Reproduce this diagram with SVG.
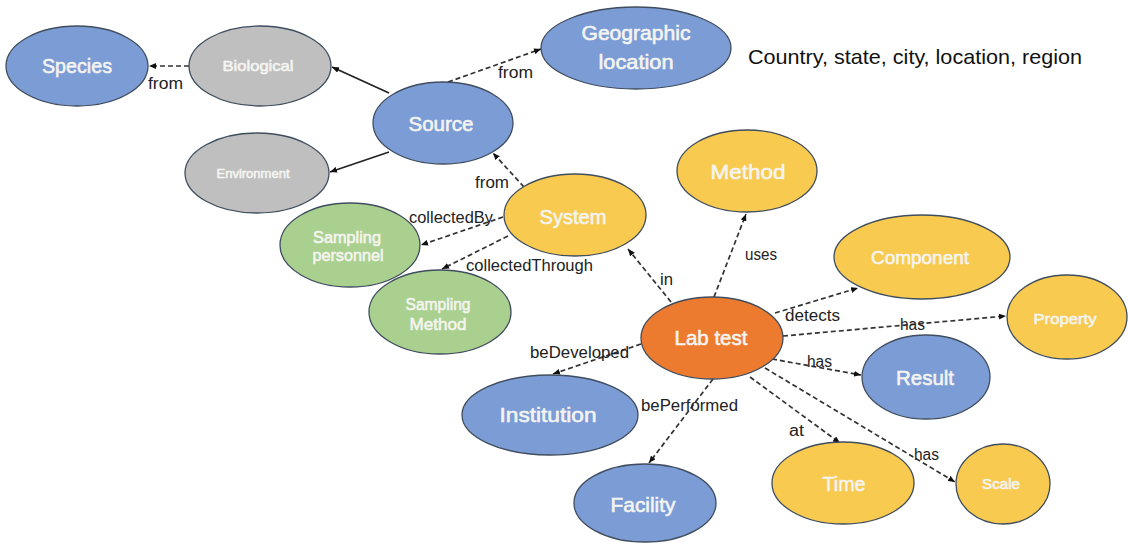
<svg xmlns="http://www.w3.org/2000/svg" width="1128" height="544" viewBox="0 0 1128 544">
  <style>
    .node ellipse { stroke: #3f4d5e; stroke-width: 1.3; }
    .blue { fill: #7c9cd6; }
    .gray { fill: #bfbfbf; }
    .yellow { fill: #f8ca50; }
    .green { fill: #a9d08e; }
    .orange { fill: #ec7b30; }
    .nt { font-family: "Liberation Sans", Arial, sans-serif; fill: #f4f4f0; stroke: #f4f4f0; stroke-width: 0.6; text-anchor: middle; }
    .el { font-family: "Liberation Sans", Arial, sans-serif; fill: #222; font-size: 16px; }
    .dash { stroke: #333; stroke-width: 1.7; stroke-dasharray: 5 3; fill: none; marker-end: url(#arrow); }
    .solid { stroke: #222; stroke-width: 1.7; fill: none; marker-end: url(#arrow); }
  </style>
  <defs>
    <marker id="arrow" markerUnits="userSpaceOnUse" markerWidth="7" markerHeight="6" refX="7" refY="3" orient="auto">
      <path d="M0,0 L7,3 L0,6 z" fill="#111"/>
    </marker>
  </defs>
  <rect width="1128" height="544" fill="#ffffff"/>

  <!-- connectors -->
  <g id="connectors">
    <line class="dash" x1="189" y1="66" x2="149" y2="66"/>
    <line class="solid" x1="389" y1="93" x2="332" y2="67"/>
    <line class="solid" x1="389" y1="152" x2="330" y2="172"/>
    <line class="dash" x1="448" y1="82" x2="541" y2="49"/>
    <line class="dash" x1="524" y1="187" x2="493" y2="153"/>
    <line class="dash" x1="503" y1="217" x2="421" y2="245"/>
    <line class="dash" x1="508" y1="236" x2="442" y2="269"/>
    <line class="dash" x1="671" y1="302" x2="628" y2="249"/>
    <line class="dash" x1="714" y1="297" x2="746" y2="214"/>
    <line class="dash" x1="775" y1="313" x2="858" y2="288"/>
    <line class="dash" x1="783" y1="336" x2="1006" y2="316"/>
    <line class="dash" x1="772" y1="359" x2="861" y2="375"/>
    <line class="dash" x1="750" y1="377" x2="840" y2="443"/>
    <line class="dash" x1="765" y1="368" x2="955" y2="482"/>
    <line class="dash" x1="641" y1="344" x2="553" y2="374"/>
    <line class="dash" x1="713" y1="379" x2="649" y2="463"/>

    <text class="el" x="148" y="89" textLength="35" lengthAdjust="spacingAndGlyphs">from</text>
    <text class="el" x="498" y="78" textLength="35" lengthAdjust="spacingAndGlyphs">from</text>
    <text class="el" x="475" y="188" textLength="34" lengthAdjust="spacingAndGlyphs">from</text>
    <text class="el" x="409" y="223" textLength="84" lengthAdjust="spacingAndGlyphs">collectedBy</text>
    <text class="el" x="466" y="271" textLength="127" lengthAdjust="spacingAndGlyphs">collectedThrough</text>
    <text class="el" x="660" y="285" textLength="13" lengthAdjust="spacingAndGlyphs">in</text>
    <text class="el" x="745" y="260" textLength="32" lengthAdjust="spacingAndGlyphs">uses</text>
    <text class="el" x="785" y="321" textLength="55" lengthAdjust="spacingAndGlyphs">detects</text>
    <text class="el" x="900" y="330" textLength="25" lengthAdjust="spacingAndGlyphs">has</text>
    <text class="el" x="807" y="367" textLength="25" lengthAdjust="spacingAndGlyphs">has</text>
    <text class="el" x="530" y="358" textLength="99" lengthAdjust="spacingAndGlyphs">beDeveloped</text>
    <text class="el" x="641" y="411" textLength="97" lengthAdjust="spacingAndGlyphs">bePerformed</text>
    <text class="el" x="789" y="436" textLength="15" lengthAdjust="spacingAndGlyphs">at</text>
    <text class="el" x="914" y="460" textLength="25" lengthAdjust="spacingAndGlyphs">has</text>
  </g>

  <!-- nodes -->
  <g id="species" class="node">
    <ellipse class="blue" cx="77" cy="66" rx="71" ry="40"/>
    <text class="nt" x="77" y="73" font-size="21" textLength="70" lengthAdjust="spacingAndGlyphs">Species</text>
  </g>
  <g id="biological" class="node">
    <ellipse class="gray" cx="260" cy="66" rx="71" ry="40"/>
    <text class="nt" x="258" y="71" font-size="15" textLength="71" lengthAdjust="spacingAndGlyphs">Biological</text>
  </g>
  <g id="environment" class="node">
    <ellipse class="gray" cx="257" cy="173" rx="72" ry="40"/>
    <text class="nt" x="253" y="178" font-size="13" textLength="73" lengthAdjust="spacingAndGlyphs">Environment</text>
  </g>
  <g id="source" class="node">
    <ellipse class="blue" cx="443" cy="123" rx="70" ry="41"/>
    <text class="nt" x="441" y="131" font-size="21" textLength="65" lengthAdjust="spacingAndGlyphs">Source</text>
  </g>
  <g id="geographic-location" class="node">
    <ellipse class="blue" cx="636" cy="48" rx="95" ry="41"/>
    <text class="nt" x="636" y="40" font-size="21" textLength="109" lengthAdjust="spacingAndGlyphs">Geographic</text>
    <text class="nt" x="636" y="69" font-size="21" textLength="75" lengthAdjust="spacingAndGlyphs">location</text>
  </g>
  <g id="geo-note">
    <text x="748" y="64" font-family="Liberation Sans, Arial, sans-serif" font-size="21" fill="#111" textLength="334" lengthAdjust="spacingAndGlyphs">Country, state, city, location, region</text>
  </g>
  <g id="system" class="node">
    <ellipse class="yellow" cx="575" cy="215" rx="71" ry="41"/>
    <text class="nt" x="573" y="224" font-size="21" textLength="67" lengthAdjust="spacingAndGlyphs">System</text>
  </g>
  <g id="method" class="node">
    <ellipse class="yellow" cx="747" cy="171" rx="70" ry="41"/>
    <text class="nt" x="748" y="179" font-size="21" textLength="75" lengthAdjust="spacingAndGlyphs">Method</text>
  </g>
  <g id="sampling-personnel" class="node">
    <ellipse class="green" cx="350" cy="245" rx="70" ry="42"/>
    <text class="nt" x="347" y="243" font-size="17" textLength="68" lengthAdjust="spacingAndGlyphs">Sampling</text>
    <text class="nt" x="348" y="261" font-size="17" textLength="71" lengthAdjust="spacingAndGlyphs">personnel</text>
  </g>
  <g id="sampling-method" class="node">
    <ellipse class="green" cx="440" cy="312" rx="71" ry="42"/>
    <text class="nt" x="438" y="310" font-size="17" textLength="65" lengthAdjust="spacingAndGlyphs">Sampling</text>
    <text class="nt" x="438" y="330" font-size="17" textLength="57" lengthAdjust="spacingAndGlyphs">Method</text>
  </g>
  <g id="lab-test" class="node">
    <ellipse class="orange" cx="712" cy="338" rx="71" ry="41"/>
    <text class="nt" x="711" y="345" font-size="21" textLength="73" lengthAdjust="spacingAndGlyphs">Lab test</text>
  </g>
  <g id="component" class="node">
    <ellipse class="yellow" cx="922" cy="257" rx="88" ry="42"/>
    <text class="nt" x="920" y="264" font-size="19" textLength="98" lengthAdjust="spacingAndGlyphs">Component</text>
  </g>
  <g id="property" class="node">
    <ellipse class="yellow" cx="1067" cy="317" rx="60" ry="42"/>
    <text class="nt" x="1065" y="324" font-size="15" textLength="63" lengthAdjust="spacingAndGlyphs">Property</text>
  </g>
  <g id="result" class="node">
    <ellipse class="blue" cx="926" cy="377" rx="64" ry="42"/>
    <text class="nt" x="925" y="385" font-size="21" textLength="58" lengthAdjust="spacingAndGlyphs">Result</text>
  </g>
  <g id="institution" class="node">
    <ellipse class="blue" cx="550" cy="415" rx="88" ry="40"/>
    <text class="nt" x="548" y="422" font-size="21" textLength="97" lengthAdjust="spacingAndGlyphs">Institution</text>
  </g>
  <g id="facility" class="node">
    <ellipse class="blue" cx="645" cy="503" rx="71" ry="39"/>
    <text class="nt" x="643" y="512" font-size="21" textLength="65" lengthAdjust="spacingAndGlyphs">Facility</text>
  </g>
  <g id="time" class="node">
    <ellipse class="yellow" cx="843" cy="483" rx="71" ry="41"/>
    <text class="nt" x="844" y="491" font-size="21" textLength="43" lengthAdjust="spacingAndGlyphs">Time</text>
  </g>
  <g id="scale" class="node">
    <ellipse class="yellow" cx="1003" cy="484" rx="47" ry="40"/>
    <text class="nt" x="1001" y="489" font-size="15" textLength="38" lengthAdjust="spacingAndGlyphs">Scale</text>
  </g>
</svg>
